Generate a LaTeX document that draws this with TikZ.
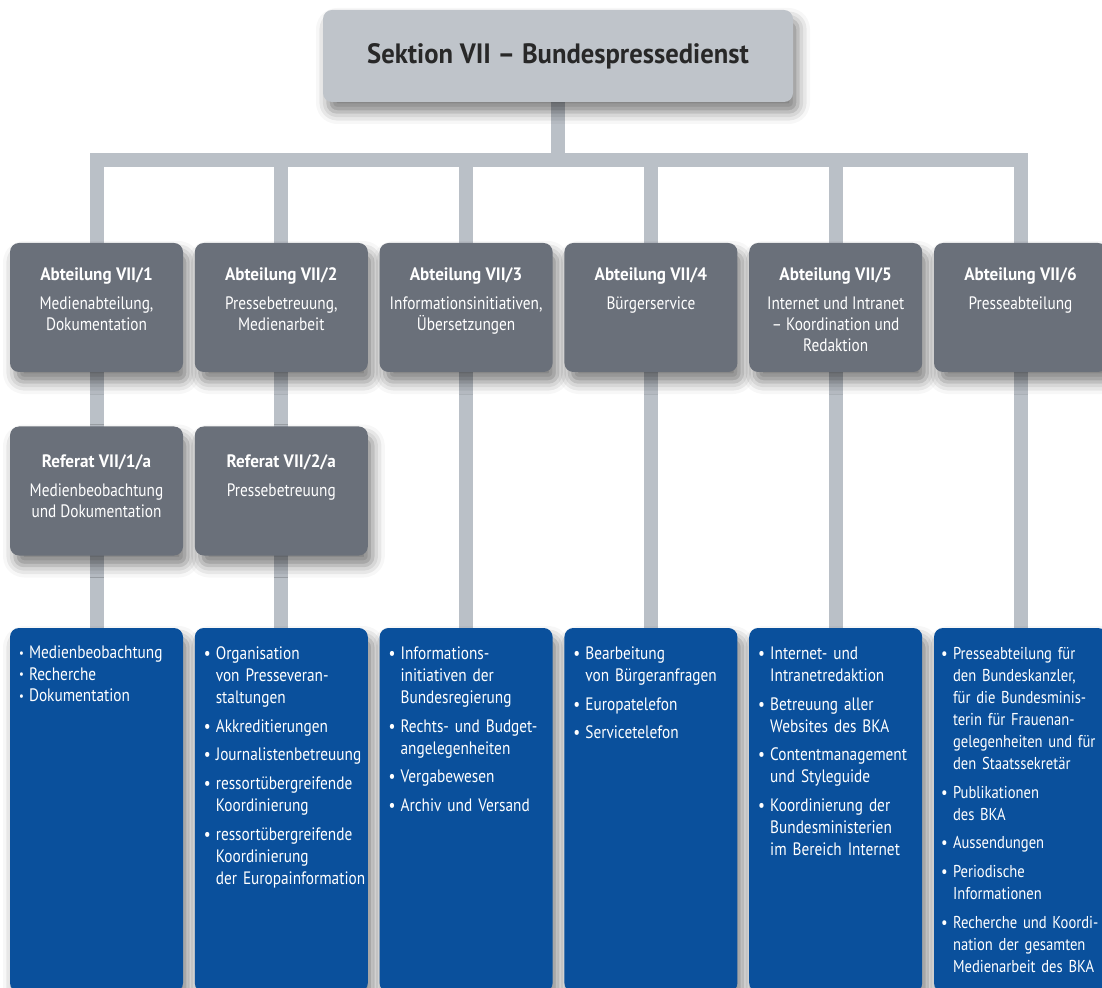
\documentclass[tikz,border=0pt]{standalone}
\usepackage{fontspec}
\setmainfont{PT Sans}[FakeStretch=0.85]
\newfontfamily\headfont{PT Sans}[FakeStretch=0.95]
\usetikzlibrary{shadows.blur}
\usetikzlibrary{backgrounds}
\definecolor{barcol}{RGB}{186,192,199}
\definecolor{headcol}{RGB}{191,196,202}
\definecolor{unitcol}{RGB}{106,112,122}
\definecolor{taskcol}{RGB}{10,80,156}
\definecolor{headtext}{RGB}{40,40,40}
\tikzstyle{box}=[rounded corners=4.5pt, inner sep=0pt, minimum width=86.5pt,
  blur shadow={shadow xshift=2.5pt, shadow yshift=-5pt, shadow blur radius=6pt, shadow opacity=50}]
\tikzstyle{headbox}=[box, fill=headcol, minimum width=235pt, minimum height=46pt,
  text=headtext, font=\headfont\bfseries\fontsize{14}{16}\selectfont]
\tikzstyle{unit}=[box, fill=unitcol, minimum height=64.5pt]
\tikzstyle{tasks}=[box, fill=taskcol, minimum height=182pt]
\tikzstyle{unittext}=[text=white, align=center, anchor=north, inner sep=0pt,
  font=\fontsize{9}{10.5}\selectfont]
\tikzstyle{tasktext}=[text=white, align=left, anchor=north west, inner sep=0pt, text width=95pt,
  font=\fontsize{9}{11}\selectfont\setlength{\parskip}{3.3pt}]
\tikzstyle{link}=[draw=barcol, line width=7pt]
\newcommand{\unithead}[1]{{\headfont\bfseries #1}}
\newcommand{\taskitem}[1]{\par\hangindent=6pt\hangafter=1\noindent\makebox[6pt][l]{\textbullet}#1\par}
\newcommand{\tightitem}[1]{\par\hangindent=5pt\hangafter=1\noindent\makebox[5pt][l]{\raisebox{0.6pt}{\scalebox{0.7}{\textbullet}}}#1\par}

\begin{document}
\begin{tikzpicture}[x=0.5pt, y=-0.5pt]
  \useasboundingbox (0,0) rectangle (1102,988);
  \clip (0,0) rectangle (1102,988);

  \node[headbox] (head) at (558,56) {Sektion VII – Bundespressedienst};
  \foreach \i in {1,...,6} {
    \node[unit] (abt\i) at ({96.5+184.8*(\i-1)},307.5) {};
    \node[tasks] (task\i) at ({96.5+184.8*(\i-1)},810) {};
  }
  \node[unit] (ref1) at (96.5,491) {};
  \node[unit] (ref2) at (281.3,491) {};

  % Abteilungen
  \node[unittext] (abt1t) at ([yshift=-12.5pt]abt1.north) {\unithead{Abteilung VII/1}\\[4pt] Medienabteilung,\\Dokumentation};
  \node[unittext] (abt2t) at ([yshift=-12.5pt]abt2.north) {\unithead{Abteilung VII/2}\\[4pt] Pressebetreuung,\\Medienarbeit};
  \node[unittext] (abt3t) at ([yshift=-12.5pt]abt3.north) {\unithead{Abteilung VII/3}\\[4pt] Informationsinitiativen,\\Übersetzungen};
  \node[unittext] (abt4t) at ([yshift=-12.5pt]abt4.north) {\unithead{Abteilung VII/4}\\[4pt] Bürgerservice};
  \node[unittext] (abt5t) at ([yshift=-12.5pt]abt5.north) {\unithead{Abteilung VII/5}\\[4pt] Internet und Intranet\\– Koordination und\\Redaktion};
  \node[unittext] (abt6t) at ([yshift=-12.5pt]abt6.north) {\unithead{Abteilung VII/6}\\[4pt] Presseabteilung};
  % Referate
  \node[unittext] (ref1t) at ([yshift=-14pt]ref1.north) {\unithead{Referat VII/1/a}\\[4pt] Medienbeobachtung\\und Dokumentation};
  \node[unittext] (ref2t) at ([yshift=-14pt]ref2.north) {\unithead{Referat VII/2/a}\\[4pt] Pressebetreuung};

  % Aufgaben
  \node[tasktext, font={\fontsize{9}{10.75}\selectfont\setlength{\parskip}{0pt}}] (task1t)
    at ([xshift=4.5pt, yshift=-4.5pt]task1.north west) {%
    \tightitem{Medienbeobachtung}\tightitem{Recherche}\tightitem{Dokumentation}};
  \node[tasktext] (task2t) at ([xshift=4.5pt, yshift=-1.5pt]task2.north west) {%
    \taskitem{Organisation\newline von Presseveran-\newline staltungen}
    \taskitem{Akkreditierungen}
    \taskitem{Journalistenbetreuung}
    \taskitem{ressortübergreifende\newline Koordinierung}
    \taskitem{ressortübergreifende\newline Koordinierung\newline der Europainformation}};
  \node[tasktext] (task3t) at ([xshift=4.5pt, yshift=-1.5pt]task3.north west) {%
    \taskitem{Informations-\newline initiativen der\newline Bundesregierung}
    \taskitem{Rechts- und Budget-\newline angelegenheiten}
    \taskitem{Vergabewesen}
    \taskitem{Archiv und Versand}};
  \node[tasktext] (task4t) at ([xshift=4.5pt, yshift=-1.5pt]task4.north west) {%
    \taskitem{Bearbeitung\newline von Bürgeranfragen}
    \taskitem{Europatelefon}
    \taskitem{Servicetelefon}};
  \node[tasktext] (task5t) at ([xshift=4.5pt, yshift=-1.5pt]task5.north west) {%
    \taskitem{Internet- und\newline Intranetredaktion}
    \taskitem{Betreuung aller\newline Websites des BKA}
    \taskitem{Contentmanagement\newline und Styleguide}
    \taskitem{Koordinierung der\newline Bundesministerien\newline im Bereich Internet}};
  \node[tasktext, font={\fontsize{8.6}{11}\selectfont\setlength{\parskip}{3.3pt}}] (task6t)
    at ([xshift=3.5pt, yshift=-1.5pt]task6.north west) {%
    \taskitem{Presseabteilung für\newline den Bundeskanzler,\newline für die Bundesminis-\newline terin für Frauenan-\newline gelegenheiten und für\newline den Staatssekretär}
    \taskitem{Publikationen\newline des BKA}
    \taskitem{Aussendungen}
    \taskitem{Periodische\newline Informationen}
    \taskitem{Recherche und Koordi-\newline nation der gesamten\newline Medienarbeit des BKA}};

  \coordinate (bar) at (558,160);
  \begin{scope}[on background layer]
    \draw[link] (abt1.north) |- (bar) -| (abt6.north);
    \draw[link] (head.south) -- (bar);
    \foreach \i in {2,...,5}
      \draw[link] (abt\i.north |- bar) -- (abt\i.north);
    \foreach \i in {1,...,6}
      \draw[link] (abt\i.south) -- (task\i.north);
  \end{scope}
\end{tikzpicture}
\end{document}
